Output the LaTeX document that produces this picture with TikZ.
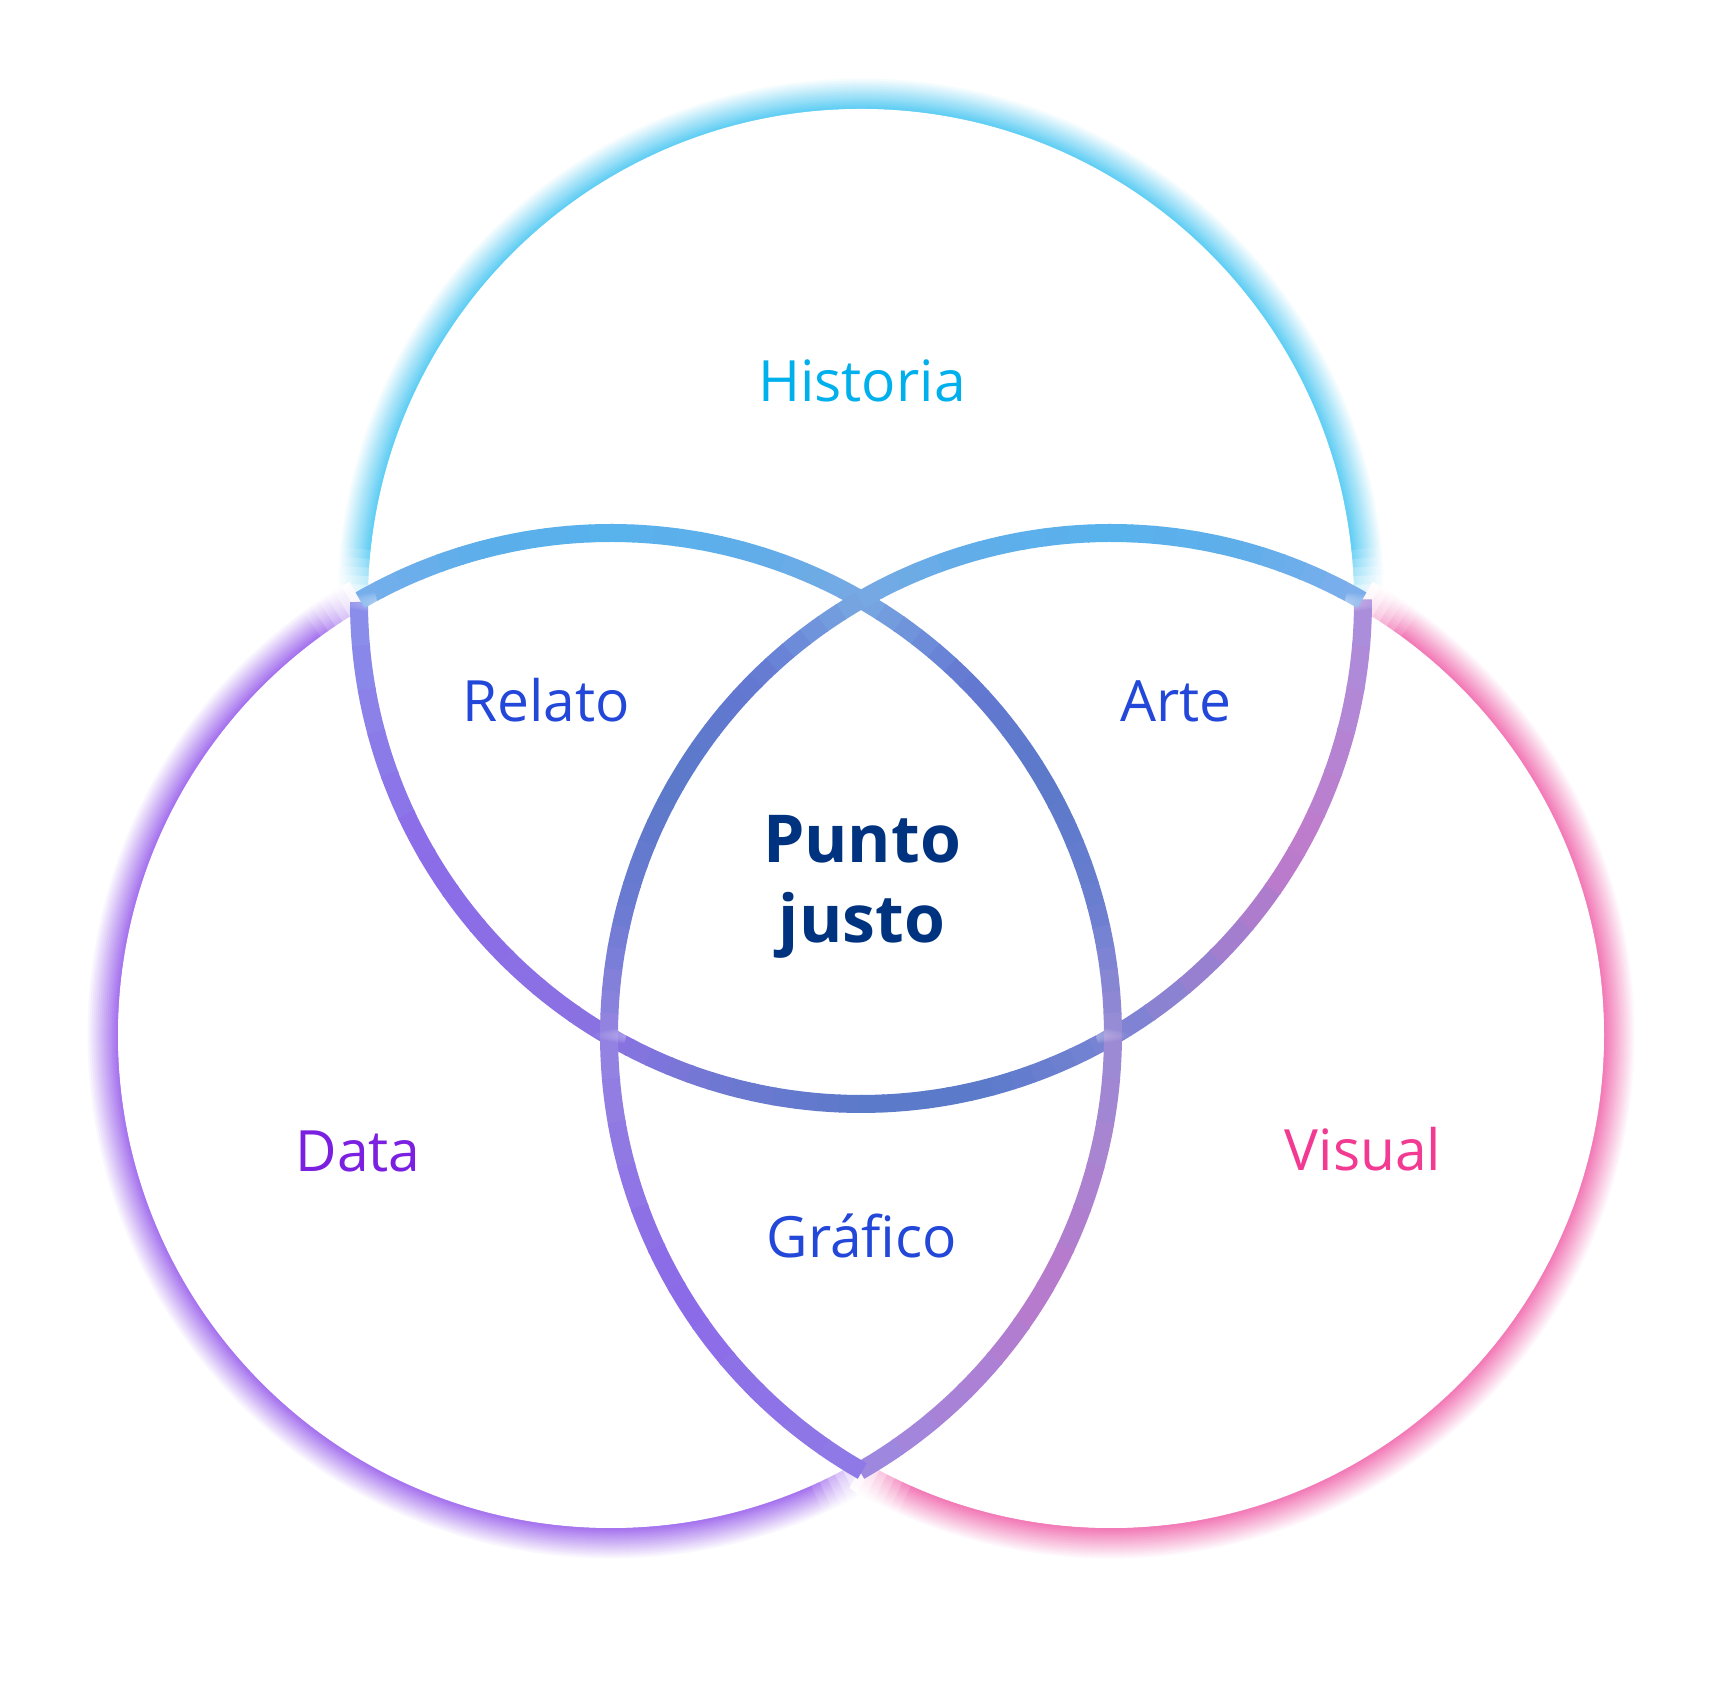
\documentclass[tikz,border=0pt]{standalone}
\usepackage{fontspec}
\setmainfont{Open Sans}
\usetikzlibrary{fadings}
\definecolor{glowT}{HTML}{4FC8F2}
\definecolor{glowL}{HTML}{9B62EC}
\definecolor{glowR}{HTML}{F06AAE}
\definecolor{txtHist}{HTML}{00B0EC}
\definecolor{txtBlue}{HTML}{2247D9}
\definecolor{txtNavy}{HTML}{00337F}
\definecolor{txtData}{HTML}{7B1FE0}
\definecolor{txtVis}{HTML}{F23A93}
\tikzset{
  thickarc/.style={line width=0.18cm, line cap=butt},
  lbl/.style={anchor=base, inner sep=0pt, font=\fontsize{16.2}{19}\selectfont},
  lblbold/.style={anchor=base, inner sep=0pt, font=\fontsize{18.8}{22}\selectfont\bfseries, text=txtNavy},
  hilite/.style={white, opacity=0.45, path fading=circle with fuzzy edge 20 percent}
}
\newcommand\vennarc[5]{%
  \definecolor{vca}{HTML}{#4}\definecolor{vcb}{HTML}{#5}%
  \foreach \i in {1,...,6}{%
    \pgfmathsetmacro\aa{#2+(#3-#2)*(\i-1)/6}%
    \pgfmathsetmacro\ab{#2+(#3-#2)*(\i+0.06)/6}%
    \pgfmathsetmacro\pp{100*(\i-0.5)/6}%
    \draw[thickarc, vcb!\pp!vca] (#1) ++(\aa:5.02) arc[start angle=\aa, end angle=\ab, radius=5.02];
  }}
% glow: center, a1, a2 (a1<a2), colour; fades over 6 degrees at both ends
\newcommand\vennglow[4]{%
  \foreach \k in {14,13,...,0}{%
    \pgfmathsetmacro\rr{4.94+0.02*\k}%
    \pgfmathsetmacro\pp{88*(1-\k/15)}%
    \pgfmathsetmacro\ma{#2+6}\pgfmathsetmacro\mb{#3-6}%
    \draw[line width=0.026cm, #4!\pp!white] (#1) ++(\ma:\rr) arc[start angle=\ma, end angle=\mb, radius=\rr];
    \foreach \j in {1,...,6}{%
      \pgfmathsetmacro\qq{\pp*(\j-0.3)/6.5}%
      \pgfmathsetmacro\sa{#2+\j-1}\pgfmathsetmacro\sb{#2+\j+0.05}%
      \draw[line width=0.026cm, #4!\qq!white] (#1) ++(\sa:\rr) arc[start angle=\sa, end angle=\sb, radius=\rr];
      \pgfmathsetmacro\ta{#3-\j+1}\pgfmathsetmacro\tb{#3-\j-0.05}%
      \draw[line width=0.026cm, #4!\qq!white] (#1) ++(\ta:\rr) arc[start angle=\ta, end angle=\tb, radius=\rr];
    }%
  }}
\begin{document}
\begin{tikzpicture}
\useasboundingbox (0,0) rectangle (17.22,16.83);
\fill[white] (0,0) rectangle (17.22,16.83);
\coordinate (T) at (8.61,10.81);
\coordinate (L) at (6.11,6.48);
\coordinate (R) at (11.11,6.48);
% glows on outer arcs
\vennglow{T}{0}{180}{glowT}
\vennglow{L}{120}{300}{glowL}
\vennglow{R}{-120}{60}{glowR}
% white discs
\fill[white] (T) circle (4.93);
\fill[white] (L) circle (4.93);
\fill[white] (R) circle (4.93);
% thick arcs: top circle
\vennarc{T}{180}{210}{8A90EA}{8C6CE8}
\vennarc{T}{210}{240}{8C6CE8}{8A72E2}
\vennarc{T}{240}{255}{8A72E2}{6C78D0}
\vennarc{T}{255}{270}{6C78D0}{5C7ACA}
\vennarc{T}{270}{285}{5C7ACA}{5C7ACA}
\vennarc{T}{285}{300}{5C7ACA}{7A84D4}
\vennarc{T}{300}{330}{7A84D4}{C07ACB}
\vennarc{T}{330}{360}{C07ACB}{A890DE}
% left circle
\vennarc{L}{120}{105}{78AEEC}{5AAEEA}
\vennarc{L}{105}{90}{5AAEEA}{58B2EC}
\vennarc{L}{90}{75}{58B2EC}{5EAEEA}
\vennarc{L}{75}{60}{5EAEEA}{78A8E2}
\vennarc{L}{60}{45}{78A8E2}{6478D2}
\vennarc{L}{45}{30}{6478D2}{5B79C9}
\vennarc{L}{30}{15}{5B79C9}{6A7ED0}
\vennarc{L}{15}{0}{6A7ED0}{9A8CD6}
\vennarc{L}{0}{-30}{9A8CD6}{B87ACB}
\vennarc{L}{-30}{-60}{B87ACB}{9C88E0}
% right circle
\vennarc{R}{60}{75}{80AEEC}{5EAEEA}
\vennarc{R}{75}{90}{5EAEEA}{58B2EC}
\vennarc{R}{90}{105}{58B2EC}{5EAEEA}
\vennarc{R}{105}{120}{5EAEEA}{78A8E2}
\vennarc{R}{120}{135}{78A8E2}{6478D2}
\vennarc{R}{135}{150}{6478D2}{5B79C9}
\vennarc{R}{150}{165}{5B79C9}{6A7AD2}
\vennarc{R}{165}{180}{6A7AD2}{9484E0}
\vennarc{R}{180}{210}{9484E0}{8C6AE8}
\vennarc{R}{210}{240}{8C6AE8}{8E7AE6}
% crossing highlights
\fill[hilite] (L) ++(60:5.02) circle (0.17);
\fill[hilite] (L) ++(0:5.02) circle (0.17);
\fill[hilite] (R) ++(180:5.02) circle (0.17);
\fill[hilite] (L) ++(-60:5.02) circle (0.17);
\fill[hilite] (T) ++(180:5.04) circle (0.2);
\fill[hilite] (T) ++(0:5.04) circle (0.2);
% labels
\node[lbl, text=txtHist] (historia) at (8.62,12.81) {Historia};
\node[lbl, text=txtBlue] (relato) at (5.46,9.61) {Relato};
\node[lbl, text=txtBlue] (arte) at (11.76,9.61) {Arte};
\node[lblbold] (punto) at (8.62,8.20) {Punto};
\node[lblbold] (justo) at (8.62,7.40) {justo};
\node[lbl, text=txtData] (data) at (3.58,5.11) {Data};
\node[lbl, text=txtVis] (visual) at (13.63,5.12) {Visual};
\node[lbl, text=txtBlue] (grafico) at (8.62,4.25) {Gráfico};
\end{tikzpicture}
\end{document}
